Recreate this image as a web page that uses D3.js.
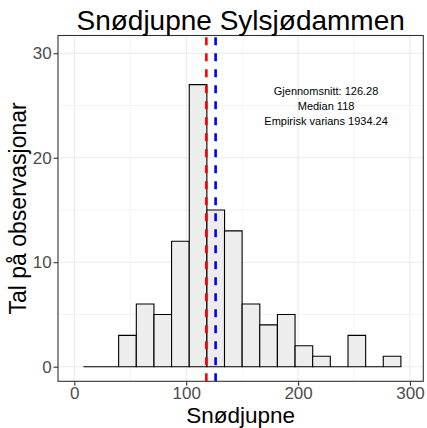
<!DOCTYPE html>
<html>
<head>
<meta charset="utf-8">
<script src="https://cdn.jsdelivr.net/npm/d3@7"></script>
<style>
  html, body { margin: 0; padding: 0; background: #ffffff; }
  svg { display: block; font-family: "Liberation Sans", Arial, Helvetica, sans-serif; }
</style>
</head>
<body>
<script>
// ---- data ----
const binCenters = [16, 31.8, 47.5, 63.3, 79.1, 94.8, 110.6, 126.4, 142.1, 157.9, 173.6, 189.4, 205.2, 220.9, 236.7, 252.5, 268.2, 284];
const counts     = [0, 0, 3, 6, 5, 12, 27, 15, 13, 6, 4, 5, 2, 1, 0, 3, 0, 1];
const binWidth = 15.76;
const medianValue = 118;
const meanValue = 126.28;
const xTicks = [0, 100, 200, 300];
const xMinorTicks = [50, 150, 250];
const yTicks = [0, 10, 20, 30];
const yMinorTicks = [5, 15, 25];
const annotationLines = ["Gjennomsnitt: 126.28", "Median 118", "Empirisk varians 1934.24"];
const annotationPos = { x: 225, y: 25 };
const titleText = "Snødjupne Sylsjødammen";
const xTitle = "Snødjupne";
const yTitle = "Tal på observasjonar";

// ---- layout ----
const W = 427, H = 428;
const panel = { left: 58, right: 423.3, top: 35.5, bottom: 381.3 };

const svg = d3.select("body").append("svg").attr("width", W).attr("height", H);
svg.append("rect").attr("width", W).attr("height", H).attr("fill", "#ffffff");

const x = d3.scaleLinear().domain([-14.57, 311.9]).range([panel.left, panel.right]);
const y = d3.scaleLinear().domain([-1.398, 31.70]).range([panel.bottom, panel.top]);

const g = svg.append("g");

// grid
g.selectAll(".xminor").data(xMinorTicks).join("line")
  .attr("x1", d => x(d)).attr("x2", d => x(d))
  .attr("y1", panel.top).attr("y2", panel.bottom)
  .attr("stroke", "#ebebeb").attr("stroke-width", 0.6);
g.selectAll(".yminor").data(yMinorTicks).join("line")
  .attr("y1", d => y(d)).attr("y2", d => y(d))
  .attr("x1", panel.left).attr("x2", panel.right)
  .attr("stroke", "#ebebeb").attr("stroke-width", 0.6);
g.selectAll(".xmajor").data(xTicks).join("line")
  .attr("x1", d => x(d)).attr("x2", d => x(d))
  .attr("y1", panel.top).attr("y2", panel.bottom)
  .attr("stroke", "#ebebeb").attr("stroke-width", 1.1);
g.selectAll(".ymajor").data(yTicks).join("line")
  .attr("y1", d => y(d)).attr("y2", d => y(d))
  .attr("x1", panel.left).attr("x2", panel.right)
  .attr("stroke", "#ebebeb").attr("stroke-width", 1.1);

// bars (zero-height bins drawn as outlines along the baseline)
const bins = binCenters.map((c, i) => ({ x0: c - binWidth / 2, x1: c + binWidth / 2, n: counts[i] }));
g.selectAll(".bar").data(bins).join("path")
  .attr("d", d => {
    const x0 = x(d.x0), x1 = x(d.x1), y0 = y(0), y1 = y(d.n);
    return `M${x0},${y0}L${x0},${y1}L${x1},${y1}L${x1},${y0}Z`;
  })
  .attr("fill", "#ededed")
  .attr("stroke", "#000000")
  .attr("stroke-width", 1.1)
  .attr("stroke-linejoin", "miter");

// vertical lines (drawn from bottom upward)
[[medianValue, "#ff0000"], [meanValue, "#0000ff"]].forEach(([v, col]) => {
  g.append("line")
    .attr("x1", x(v)).attr("x2", x(v))
    .attr("y1", panel.bottom).attr("y2", panel.top)
    .attr("stroke", col).attr("stroke-width", 2.6)
    .attr("stroke-dasharray", "8,8");
});

// annotation
const ann = g.append("text")
  .attr("x", x(annotationPos.x))
  .attr("text-anchor", "middle")
  .attr("font-size", 11)
  .attr("fill", "#000000");
annotationLines.forEach((t, i) => {
  ann.append("tspan").attr("x", x(annotationPos.x))
    .attr("y", y(annotationPos.y) + (i - 1) * 15 + 4)
    .text(t);
});

// panel border
svg.append("rect")
  .attr("x", panel.left).attr("y", panel.top)
  .attr("width", panel.right - panel.left).attr("height", panel.bottom - panel.top)
  .attr("fill", "none").attr("stroke", "#333333").attr("stroke-width", 1.1);

// axes
const xAxis = svg.append("g").attr("transform", `translate(0,${panel.bottom})`)
  .call(d3.axisBottom(x).tickValues(xTicks).tickSize(4.5).tickPadding(1.6).tickFormat(d3.format("d")));
const yAxis = svg.append("g").attr("transform", `translate(${panel.left},0)`)
  .call(d3.axisLeft(y).tickValues(yTicks).tickSize(4.5).tickPadding(1.8).tickFormat(d3.format("d")));
[xAxis, yAxis].forEach(a => {
  a.select(".domain").remove();
  a.selectAll(".tick line").attr("stroke", "#333333").attr("stroke-width", 1.1);
  a.selectAll(".tick text").attr("fill", "#4d4d4d").attr("font-size", 17)
    .attr("font-family", "'Liberation Sans', Arial, Helvetica, sans-serif");
});

// titles
svg.append("text")
  .attr("x", (panel.left + panel.right) / 2).attr("y", 30)
  .attr("text-anchor", "middle").attr("font-size", 28).attr("fill", "#000000")
  .text(titleText);
svg.append("text")
  .attr("x", (panel.left + panel.right) / 2).attr("y", 422.5)
  .attr("text-anchor", "middle").attr("font-size", 22.5).attr("fill", "#000000")
  .text(xTitle);
svg.append("text")
  .attr("transform", `translate(26,${(panel.top + panel.bottom) / 2}) rotate(-90)`)
  .attr("text-anchor", "middle").attr("font-size", 23).attr("fill", "#000000")
  .text(yTitle);
</script>
</body>
</html>
